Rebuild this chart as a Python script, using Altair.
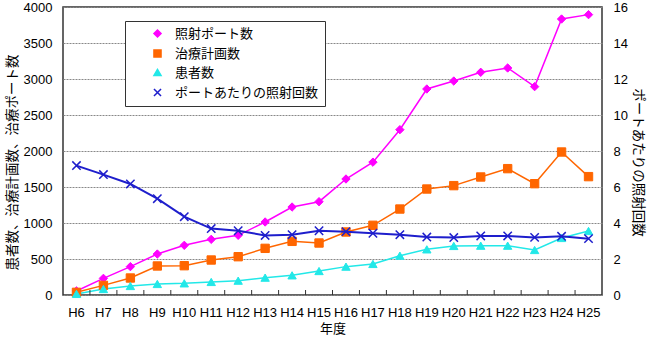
import altair as alt
import pandas as pd

years = ["H6", "H7", "H8", "H9", "H10", "H11", "H12", "H13", "H14", "H15",
         "H16", "H17", "H18", "H19", "H20", "H21", "H22", "H23", "H24", "H25"]
ports = [56, 231, 394, 569, 690, 773, 829, 1014, 1222, 1296,
         1611, 1845, 2296, 2861, 2972, 3093, 3153, 2894, 3833, 3894]
plans = [37, 134, 236, 403, 407, 486, 532, 648, 745, 722,
         875, 968, 1194, 1472, 1519, 1639, 1755, 1546, 1986, 1644]
patients = [15, 83, 125, 153, 162, 181, 199, 241, 273, 333,
            394, 431, 546, 634, 681, 685, 685, 625, 792, 889]
ratio = [7.19, 6.69, 6.17, 5.35, 4.35, 3.69, 3.57, 3.31, 3.35, 3.57,
         3.52, 3.43, 3.35, 3.22, 3.19, 3.28, 3.28, 3.20, 3.26, 3.13]

series_names = ["照射ポート数", "治療計画数", "患者数", "ポートあたりの照射回数"]
colors = ["#FF00FF", "#FF6600", "#22E8E8", "#1E1ECC"]
shapes = ["diamond", "square", "triangle-up", "M-1,-1L1,1M-1,1L1,-1"]
left_ticks = [0, 500, 1000, 1500, 2000, 2500, 3000, 3500, 4000]
right_ticks = [0, 2, 4, 6, 8, 10, 12, 14, 16]

FONT = "Liberation Sans, Noto Sans CJK JP"

left_df = pd.DataFrame(
    [{"year": y, "series": series_names[0], "value": v} for y, v in zip(years, ports)]
    + [{"year": y, "series": series_names[1], "value": v} for y, v in zip(years, plans)]
    + [{"year": y, "series": series_names[2], "value": v} for y, v in zip(years, patients)]
)
right_df = pd.DataFrame(
    [{"year": y, "series": series_names[3], "value": v} for y, v in zip(years, ratio)]
)
xtick_df = pd.DataFrame({"year": years[1:]})

legend = alt.Legend(
    title=None, orient="none", legendX=62, legendY=14,
    strokeColor="#333333", fillColor="white", padding=6,
    labelFont=FONT, labelFontSize=13, labelColor="#000000",
    rowPadding=5, symbolSize=50, symbolOffset=20, labelOffset=11,
)

xscale = alt.Scale(type="band", paddingInner=0, paddingOuter=0)
xenc = alt.X(
    "year:N", sort=years, bandPosition=0.5, scale=xscale,
    axis=alt.Axis(title="年度", labelAngle=0, ticks=False, domain=False,
                  labelPadding=11, titlePadding=3, labelFontSize=13,
                  titleFontSize=13, labelColor="#000", titleColor="#000",
                  titleFontWeight="normal", grid=False),
)
stroke = alt.Stroke("series:N", scale=alt.Scale(domain=series_names, range=colors), legend=legend)
fill = alt.Fill("series:N", scale=alt.Scale(domain=series_names, range=colors), legend=legend)
shape = alt.Shape("series:N", scale=alt.Scale(domain=series_names, range=shapes), legend=legend)

yleft = alt.Y(
    "value:Q", scale=alt.Scale(domain=[0, 4000], nice=False),
    axis=alt.Axis(title="患者数、治療計画数、治療ポート数", values=left_ticks, format="d",
                  orient="left", ticks=False, domain=False, labelPadding=11,
                  titlePadding=4, titleY=155, labelFontSize=13, titleFontSize=13.5,
                  titleFontWeight="normal", labelColor="#000", titleColor="#000",
                  grid=True, gridColor="#888888", gridDash=[2, 1], gridWidth=1),
)
yright = alt.Y(
    "value:Q", scale=alt.Scale(domain=[0, 16], nice=False),
    axis=alt.Axis(title="ポートあたりの照射回数", values=right_ticks, format="d",
                  orient="right", ticks=False, domain=False, labelPadding=11,
                  titlePadding=3, titleY=155, labelFontSize=13, titleFontSize=13.5,
                  titleFontWeight="normal", labelColor="#000", titleColor="#000",
                  grid=False),
)

left_base = alt.Chart(left_df)
left_lines = left_base.mark_line(strokeWidth=1.5).encode(x=xenc, y=yleft, stroke=stroke)
left_pts = left_base.mark_point(filled=True, size=70, opacity=1, strokeWidth=1).encode(
    x=xenc, y=yleft, stroke=stroke, fill=fill, shape=shape)

xticks = alt.Chart(xtick_df).mark_rule(color="#333333", strokeWidth=1).encode(
    x=alt.X("year:N", sort=years, bandPosition=0, scale=xscale),
    y=alt.value(288), y2=alt.value(283))

left = alt.layer(left_lines, left_pts, xticks)

right_base = alt.Chart(right_df)
right_lines = right_base.mark_line(strokeWidth=2).encode(x=xenc, y=yright, stroke=stroke)
right_pts = right_base.mark_point(filled=True, size=70, opacity=1, strokeWidth=1.5).encode(
    x=xenc, y=yright, stroke=stroke, fill=fill, shape=shape)
right = alt.layer(right_lines, right_pts)

chart = (
    alt.layer(left, right)
    .resolve_scale(y="independent")
    .properties(
        width=539, height=288,
        autosize=alt.AutoSizeParams(type="none"),
        padding={"left": 63, "top": 7, "right": 46, "bottom": 43},
        background="white",
    )
    .configure(font=FONT)
    .configure_view(stroke="#333333", strokeWidth=1.5)
)

chart.save("out.html", embed_options={"renderer": "svg", "actions": False})
